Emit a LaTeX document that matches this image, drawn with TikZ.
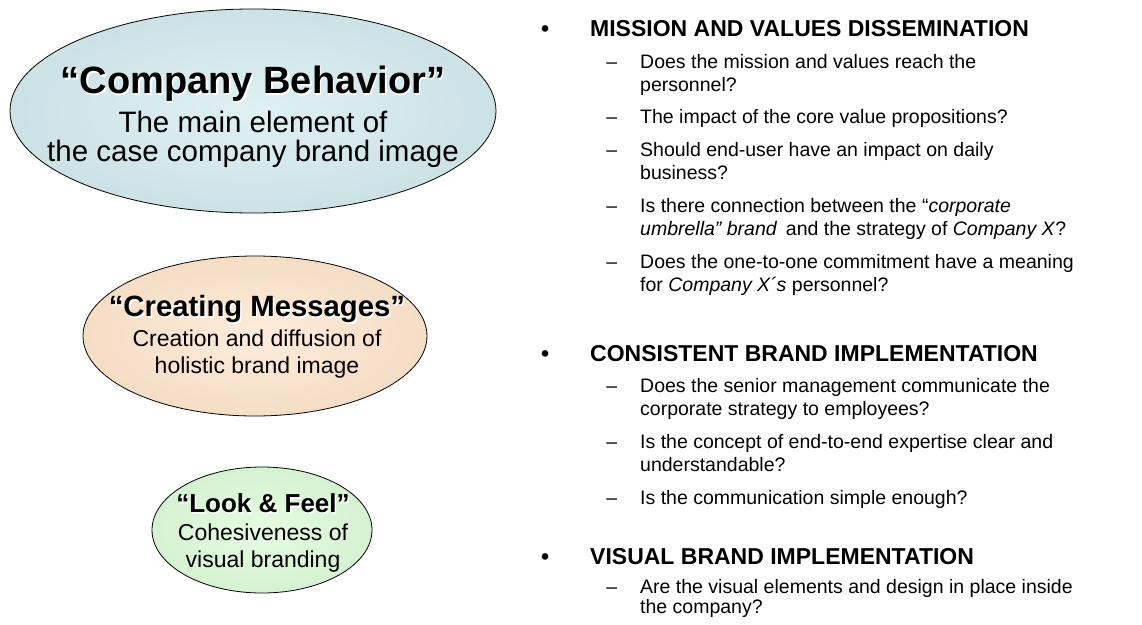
\documentclass[tikz,border=0pt]{standalone}
\usepackage{fontspec}
\setmainfont{Liberation Sans}
\usetikzlibrary{shapes.geometric}

\definecolor{behavin}{RGB}{224,240,243}
\definecolor{behavout}{RGB}{184,211,215}
\definecolor{messin}{RGB}{254,236,219}
\definecolor{messout}{RGB}{236,206,176}
\definecolor{lookin}{RGB}{230,252,226}
\definecolor{lookout}{RGB}{194,231,192}
\colorlet{ovin}{white}
\colorlet{ovout}{white}

\pgfdeclareradialshading[ovin,ovout]{oval}{\pgfpoint{0bp}{0bp}}{color(0bp)=(ovin); color(50bp)=(ovout)}

\newcommand\embtitle[1]{\makebox[0pt][l]{\hspace{1.5pt}\raisebox{-1.5pt}{\color{white}#1}}{#1}}
\newcommand\hdot{\llap{\textbullet\hspace{41pt}}}
\newcommand\idash{\llap{–\hspace{23pt}}}

\tikzset{
	ovalbox/.style 2 args={ellipse, draw=black, line width=0.8pt, inner sep=0pt,
		minimum width=#1, minimum height=#2, shade, shading=oval},
	ovcol/.code 2 args={\colorlet{ovin}{#1}\colorlet{ovout}{#2}},
	ovtext/.style={align=center, inner sep=0pt},
	head/.style={anchor=base west, inner sep=0pt, font=\fontsize{23}{27}\selectfont\bfseries},
	% base of an item = baseline of its last line
	item/.style={anchor=base west, inner sep=0pt, align=left, font=\fontsize{19.5}{23}\selectfont}
}

\begin{document}
\begin{tikzpicture}[x=1pt,y=-1pt]
	\useasboundingbox (0,0) rectangle (1142,624);

	% the three ovals
	\node[ovalbox={486}{204}, ovcol={behavin}{behavout}] (behav) at (253,111) {};
	\node[ovtext, font=\fontsize{29.5}{29.5}\selectfont] (behavtxt) at (253,117)
		{\embtitle{\fontsize{38}{38}\selectfont\bfseries “Company Behavior”}\\[7pt]
		The main element of\\ the case company brand image};

	\node[ovalbox={344}{160}, ovcol={messin}{messout}] (mess) at (255,336) {};
	\node[ovtext, font=\fontsize{23}{27}\selectfont] (messtxt) at (257,337)
		{\embtitle{\fontsize{29.3}{29.3}\selectfont\bfseries “Creating Messages”}\\[3pt]
		Creation and diffusion of\\ holistic brand image};

	\node[ovalbox={220}{126}, ovcol={lookin}{lookout}] (look) at (262,530) {};
	\node[ovtext, font=\fontsize{23}{26.5}\selectfont] (looktxt) at (263,533)
		{\embtitle{\fontsize{26}{26}\selectfont\bfseries “Look \& Feel”}\\[1.5pt]
		Cohesiveness of\\ visual branding};

	% the questions
	\node[head] (h1) at (590,36) {\hdot MISSION AND VALUES DISSEMINATION};
	\node[item] (m1) at (640,91) {\idash Does the mission and values reach the\\ personnel?};
	\node[item] (m2) at (640,123) {\idash The impact of the core value propositions?};
	\node[item] (m3) at (640,179) {\idash Should end-user have an impact on daily\\ business?};
	\node[item] (m4) at (640,235) {\idash Is there connection between the “\textit{corporate}\\ \textit{umbrella” brand}\, and the strategy of \textit{Company X}?};
	\node[item] (m5) at (640,291) {\idash Does the one-to-one commitment have a meaning\\ for \textit{Company X´s} personnel?};

	\node[head] (h2) at (590,361) {\hdot CONSISTENT BRAND IMPLEMENTATION};
	\node[item] (c1) at (640,415) {\idash Does the senior management communicate the\\ corporate strategy to employees?};
	\node[item] (c2) at (640,471) {\idash Is the concept of end-to-end expertise clear and\\ understandable?};
	\node[item] (c3) at (640,504) {\idash Is the communication simple enough?};

	\node[head] (h3) at (590,564) {\hdot VISUAL BRAND IMPLEMENTATION};
	\node[item, font=\fontsize{19.5}{18}\selectfont] (v1) at (640,613) {\idash Are the visual elements and design in place inside\\ the company?};
\end{tikzpicture}
\end{document}
